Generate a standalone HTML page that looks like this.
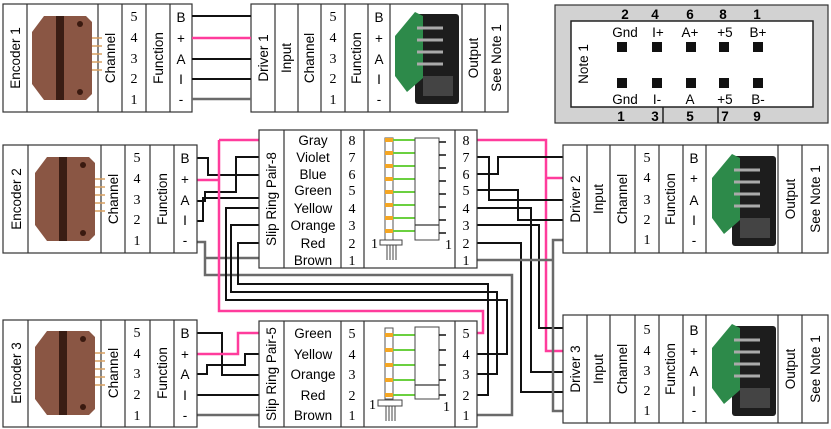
<!DOCTYPE html>
<html><head><meta charset="utf-8"><style>
html,body{margin:0;padding:0;background:#fff;}
svg{display:block;}
.s{font-family:"Liberation Sans",sans-serif;font-size:13.5px;}
.n{font-family:"Liberation Serif",serif;font-size:14px;}
.b{fill:#fff;stroke:#333;stroke-width:1.2;}
.l{stroke:#333;stroke-width:1.2;}
.k{fill:none;stroke:#111;stroke-width:2;}
.p{fill:none;stroke:#ff3c9c;stroke-width:2.5;}
.g{fill:none;stroke:#6a6a6a;stroke-width:2.5;}
.gr{stroke:#6bd040;stroke-width:2;}
</style></head><body>
<svg width="831" height="429" viewBox="0 0 831 429" xmlns="http://www.w3.org/2000/svg">
<defs>
<g id="enc">
 <path d="M14 8 L56 8 L62 14 L62 86 L56 92 L14 92 L2 76 L2 24 Z" fill="#8a5644"/>
 <path d="M26 8 L34 8 L34 92 L26 92 Z" fill="#3a1d14"/>
 <circle cx="50" cy="16" r="3" fill="#3a1a10"/><circle cx="50" cy="84" r="3" fill="#3a1a10"/>
 <path d="M62 30H72M62 38H72M62 46H72M62 54H72M62 62H72" stroke="#d9a060" stroke-width="1.5"/>
</g>
<g id="drv">
 <rect x="22" y="8" width="44" height="90" fill="#1d1d1d" rx="3"/>
 <rect x="30" y="70" width="30" height="20" fill="#444"/>
 <path d="M2 30 L22 6 L30 10 L30 72 L14 86 L2 70 Z" fill="#2d8a4a"/>
 <path d="M24 22H50M24 34H50M24 46H50M24 58H50" stroke="#aaa" stroke-width="3"/>
</g>
</defs>

<!-- ENCODER 1 -->
<rect class="b" x="3" y="4" width="189" height="108"/>
<path class="l" d="M27 4V112M98 4V112M122 4V112M146 4V112M170 4V112"/>
<text class="s" transform="translate(20,58) rotate(-90)" text-anchor="middle">Encoder 1</text>
<use href="#enc" x="30" y="8"/>
<text class="s" transform="translate(115,58) rotate(-90)" text-anchor="middle">Channel</text>
<text class="s" transform="translate(163,58) rotate(-90)" text-anchor="middle">Function</text>
<g class="n" text-anchor="middle"><text x="134" y="21">5</text><text x="134" y="42">4</text><text x="134" y="63">3</text><text x="134" y="83">2</text><text x="134" y="104">1</text></g>
<g class="s" text-anchor="middle"><text x="181" y="22">B</text><text x="181" y="43">+</text><text x="181" y="64">A</text><text x="181" y="84">I</text><text x="181" y="104">-</text></g>

<!-- DRIVER 1 -->
<rect class="b" x="251" y="4" width="257" height="108"/>
<path class="l" d="M275 4V112M298 4V112M321 4V112M345 4V112M368 4V112M390 4V112M462 4V112M485 4V112"/>
<text class="s" transform="translate(268,58) rotate(-90)" text-anchor="middle">Driver 1</text>
<text class="s" transform="translate(291,58) rotate(-90)" text-anchor="middle">Input</text>
<text class="s" transform="translate(314,58) rotate(-90)" text-anchor="middle">Channel</text>
<text class="s" transform="translate(361,58) rotate(-90)" text-anchor="middle">Function</text>
<text class="s" transform="translate(478,58) rotate(-90)" text-anchor="middle">Output</text>
<text class="s" transform="translate(501,58) rotate(-90)" text-anchor="middle">See Note 1</text>
<g class="n" text-anchor="middle"><text x="333" y="21">5</text><text x="333" y="42">4</text><text x="333" y="63">3</text><text x="333" y="83">2</text><text x="333" y="104">1</text></g>
<g class="s" text-anchor="middle"><text x="379" y="22">B</text><text x="379" y="43">+</text><text x="379" y="64">A</text><text x="379" y="84">I</text><text x="379" y="104">-</text></g>
<use href="#drv" x="393" y="6"/>
<path class="k" d="M192 16H251M192 59H251M192 79H251"/>
<path class="p" d="M192 38H251"/>
<path class="g" d="M192 99H251"/>

<!-- NOTE 1 -->
<rect x="555" y="5" width="273" height="118" fill="#d2d2d2" stroke="#333" stroke-width="1.2"/>
<rect x="571" y="21" width="242" height="86" fill="#fff" stroke="#222" stroke-width="1.5"/>
<path d="M663 107V123M718 107V123" stroke="#222" stroke-width="1.5"/>
<text class="s" transform="translate(588,64) rotate(-90)" text-anchor="middle">Note 1</text>
<g class="s" text-anchor="middle" font-size="12" font-weight="bold">
<text x="625" y="19">2</text><text x="655" y="19">4</text><text x="690" y="19">6</text><text x="723" y="19">8</text><text x="757" y="19">1</text>
<text x="621" y="121">1</text><text x="655" y="121">3</text><text x="690" y="121">5</text><text x="725" y="121">7</text><text x="757" y="121">9</text>
</g>
<g class="s" text-anchor="middle" font-size="13">
<text x="625" y="37">Gnd</text><text x="658" y="37">I+</text><text x="690" y="37">A+</text><text x="725" y="37">+5</text><text x="758" y="37">B+</text>
<text x="625" y="104">Gnd</text><text x="657" y="104">I-</text><text x="690" y="104">A</text><text x="725" y="104">+5</text><text x="758" y="104">B-</text>
</g>
<g fill="#111">
<rect x="617" y="42" width="10" height="10"/><rect x="652" y="42" width="10" height="10"/><rect x="686" y="42" width="10" height="10"/><rect x="719" y="42" width="10" height="10"/><rect x="753" y="42" width="10" height="10"/>
<rect x="617" y="78" width="10" height="10"/><rect x="652" y="78" width="10" height="10"/><rect x="686" y="78" width="10" height="10"/><rect x="719" y="78" width="10" height="10"/><rect x="753" y="78" width="10" height="10"/>
</g>

<!-- WIRES -->
<path class="k" d="M197 158H208V175H259"/>
<path class="k" d="M197 201H205V192H236V157H259"/>
<path class="k" d="M197 221H203V198H259"/>
<path class="g" d="M197 242H205V275H512V415H477"/>
<path class="g" d="M205 258H259"/>
<path class="p" d="M197 180H219M219 140H259M219 140V311H483V333H477"/>
<path class="k" d="M259 208H226V300H507V354H477"/>
<path class="k" d="M259 225H231V292H497V374H477"/>
<path class="k" d="M259 243H238V284H488V395H477"/>
<path class="p" d="M477 140H546V351H563M546 178H563"/>
<path class="k" d="M477 157H489V200H563"/>
<path class="k" d="M477 174H498V157H563"/>
<path class="k" d="M477 190H518V220H563"/>
<path class="k" d="M477 208H531V372H563"/>
<path class="k" d="M477 225H539V328H563"/>
<path class="k" d="M477 243H521V392H563"/>
<path class="g" d="M477 260H553V240H563M553 260V411H563"/>
<path class="k" d="M197 333H222V375H259"/>
<path class="p" d="M197 354H238V333H259"/>
<path class="k" d="M197 374H207V365H245V354H259"/>
<path class="k" d="M197 395H259"/>
<path class="g" d="M197 415H259"/>

<!-- ENCODER 2 -->
<rect class="b" x="3" y="145" width="194" height="108"/>
<path class="l" d="M28 145V253M101 145V253M125 145V253M150 145V253M174 145V253"/>
<text class="s" transform="translate(21,199) rotate(-90)" text-anchor="middle">Encoder 2</text>
<use href="#enc" x="33" y="149"/>
<text class="s" transform="translate(118,199) rotate(-90)" text-anchor="middle">Channel</text>
<text class="s" transform="translate(167,199) rotate(-90)" text-anchor="middle">Function</text>
<g class="n" text-anchor="middle"><text x="137" y="162">5</text><text x="137" y="183">4</text><text x="137" y="204">3</text><text x="137" y="224">2</text><text x="137" y="245">1</text></g>
<g class="s" text-anchor="middle"><text x="185" y="163">B</text><text x="185" y="184">+</text><text x="185" y="205">A</text><text x="185" y="225">I</text><text x="185" y="245">-</text></g>

<!-- ENCODER 3 -->
<rect class="b" x="3" y="320" width="194" height="107"/>
<path class="l" d="M28 320V427M101 320V427M125 320V427M150 320V427M174 320V427"/>
<text class="s" transform="translate(21,373) rotate(-90)" text-anchor="middle">Encoder 3</text>
<use href="#enc" x="33" y="323"/>
<text class="s" transform="translate(118,373) rotate(-90)" text-anchor="middle">Channel</text>
<text class="s" transform="translate(167,373) rotate(-90)" text-anchor="middle">Function</text>
<g class="n" text-anchor="middle"><text x="137" y="337">5</text><text x="137" y="358">4</text><text x="137" y="378">3</text><text x="137" y="399">2</text><text x="137" y="420">1</text></g>
<g class="s" text-anchor="middle"><text x="185" y="338">B</text><text x="185" y="359">+</text><text x="185" y="379">A</text><text x="185" y="400">I</text><text x="185" y="420">-</text></g>

<!-- SLIP RING 8 -->
<rect class="b" x="259" y="130" width="218" height="138"/>
<path class="l" d="M284 130V268M341 130V268M364 130V268M455 130V268"/>
<text class="s" transform="translate(276,199) rotate(-90)" text-anchor="middle">Slip Ring Pair-8</text>
<g class="s" text-anchor="middle"><text x="313" y="145">Gray</text><text x="313" y="162">Violet</text><text x="313" y="179">Blue</text><text x="313" y="195">Green</text><text x="313" y="213">Yellow</text><text x="313" y="230">Orange</text><text x="313" y="248">Red</text><text x="313" y="265">Brown</text></g>
<g class="n" text-anchor="middle"><text x="352" y="145">8</text><text x="352" y="162">7</text><text x="352" y="179">6</text><text x="352" y="195">5</text><text x="352" y="213">4</text><text x="352" y="230">3</text><text x="352" y="248">2</text><text x="352" y="265">1</text></g>
<g class="n" text-anchor="middle"><text x="466" y="145">8</text><text x="466" y="162">7</text><text x="466" y="179">6</text><text x="466" y="195">5</text><text x="466" y="213">4</text><text x="466" y="230">3</text><text x="466" y="248">2</text><text x="466" y="265">1</text></g>
<rect x="385" y="138" width="8" height="102" fill="#fff" stroke="#555"/>
<g fill="#f5a623"><rect x="385" y="138" width="8" height="4"/><rect x="385" y="151" width="8" height="4"/><rect x="385" y="164" width="8" height="4"/><rect x="385" y="177" width="8" height="4"/><rect x="385" y="190" width="8" height="4"/><rect x="385" y="203" width="8" height="4"/><rect x="385" y="216" width="8" height="4"/><rect x="385" y="229" width="8" height="4"/></g>
<path class="gr" d="M393 140H415M393 153H415M393 166H415M393 179H415M393 192H415M393 205H415M393 218H415M393 231H415"/>
<rect x="415" y="138" width="24" height="102" fill="#fff" stroke="#444"/>
<path class="l" d="M415 225H439"/>
<path stroke="#111" stroke-width="1.5" d="M439 142H446M439 155H446M439 168H446M439 181H446M439 194H446M439 207H446M439 220H446M439 233H446"/>
<rect x="380" y="240" width="22" height="5" fill="#fff" stroke="#444"/>
<path stroke="#444" d="M387 245V260M390 245V260M393 245V260M396 245V260"/>
<text class="n" x="371" y="248" font-size="12">1</text><text class="n" x="445" y="249" font-size="12">1</text>

<!-- SLIP RING 5 -->
<rect class="b" x="259" y="321" width="218" height="106"/>
<path class="l" d="M284 321V427M341 321V427M364 321V427M455 321V427"/>
<text class="s" transform="translate(276,374) rotate(-90)" text-anchor="middle">Slip Ring Pair-5</text>
<g class="s" text-anchor="middle"><text x="313" y="338">Green</text><text x="313" y="359">Yellow</text><text x="313" y="379">Orange</text><text x="313" y="400">Red</text><text x="313" y="420">Brown</text></g>
<g class="n" text-anchor="middle"><text x="352" y="338">5</text><text x="352" y="359">4</text><text x="352" y="379">3</text><text x="352" y="400">2</text><text x="352" y="420">1</text></g>
<g class="n" text-anchor="middle"><text x="466" y="338">5</text><text x="466" y="359">4</text><text x="466" y="379">3</text><text x="466" y="400">2</text><text x="466" y="420">1</text></g>
<rect x="385" y="328" width="8" height="71" fill="#fff" stroke="#555"/>
<g fill="#f5a623"><rect x="385" y="333" width="8" height="4"/><rect x="385" y="348" width="8" height="4"/><rect x="385" y="363" width="8" height="4"/><rect x="385" y="378" width="8" height="4"/><rect x="385" y="393" width="8" height="4"/></g>
<path class="gr" d="M393 335H415M393 350H415M393 365H415M393 380H415M393 395H415"/>
<rect x="415" y="327" width="24" height="72" fill="#fff" stroke="#444"/>
<path class="l" d="M415 385H439"/>
<path stroke="#111" stroke-width="1.5" d="M439 335H446M439 350H446M439 365H446M439 380H446M439 395H446"/>
<rect x="378" y="400" width="24" height="6" fill="#fff" stroke="#444"/>
<path stroke="#444" d="M386 406V421M389 406V421M392 406V421M395 406V421"/>
<text class="n" x="369" y="409" font-size="12">1</text><text class="n" x="443" y="411" font-size="12">1</text>

<!-- DRIVER 2 -->
<rect class="b" x="563" y="145" width="265" height="108"/>
<path class="l" d="M587 145V253M610 145V253M635 145V253M659 145V253M683 145V253M706 145V253M778 145V253M802 145V253"/>
<text class="s" transform="translate(580,199) rotate(-90)" text-anchor="middle">Driver 2</text>
<text class="s" transform="translate(603,199) rotate(-90)" text-anchor="middle">Input</text>
<text class="s" transform="translate(627,199) rotate(-90)" text-anchor="middle">Channel</text>
<text class="s" transform="translate(675,199) rotate(-90)" text-anchor="middle">Function</text>
<text class="s" transform="translate(795,199) rotate(-90)" text-anchor="middle">Output</text>
<text class="s" transform="translate(820,199) rotate(-90)" text-anchor="middle">See Note 1</text>
<g class="n" text-anchor="middle"><text x="647" y="162">5</text><text x="647" y="182">4</text><text x="647" y="204">3</text><text x="647" y="224">2</text><text x="647" y="244">1</text></g>
<g class="s" text-anchor="middle"><text x="694" y="163">B</text><text x="694" y="183">+</text><text x="694" y="205">A</text><text x="694" y="225">I</text><text x="694" y="245">-</text></g>
<use href="#drv" x="710" y="148"/>

<!-- DRIVER 3 -->
<rect class="b" x="563" y="315" width="265" height="108"/>
<path class="l" d="M587 315V423M610 315V423M635 315V423M659 315V423M683 315V423M706 315V423M778 315V423M802 315V423"/>
<text class="s" transform="translate(580,369) rotate(-90)" text-anchor="middle">Driver 3</text>
<text class="s" transform="translate(603,369) rotate(-90)" text-anchor="middle">Input</text>
<text class="s" transform="translate(627,369) rotate(-90)" text-anchor="middle">Channel</text>
<text class="s" transform="translate(675,369) rotate(-90)" text-anchor="middle">Function</text>
<text class="s" transform="translate(795,369) rotate(-90)" text-anchor="middle">Output</text>
<text class="s" transform="translate(820,369) rotate(-90)" text-anchor="middle">See Note 1</text>
<g class="n" text-anchor="middle"><text x="647" y="334">5</text><text x="647" y="355">4</text><text x="647" y="375">3</text><text x="647" y="395">2</text><text x="647" y="415">1</text></g>
<g class="s" text-anchor="middle"><text x="694" y="335">B</text><text x="694" y="356">+</text><text x="694" y="376">A</text><text x="694" y="396">I</text><text x="694" y="415">-</text></g>
<use href="#drv" x="710" y="318"/>
</svg>
</body></html>
